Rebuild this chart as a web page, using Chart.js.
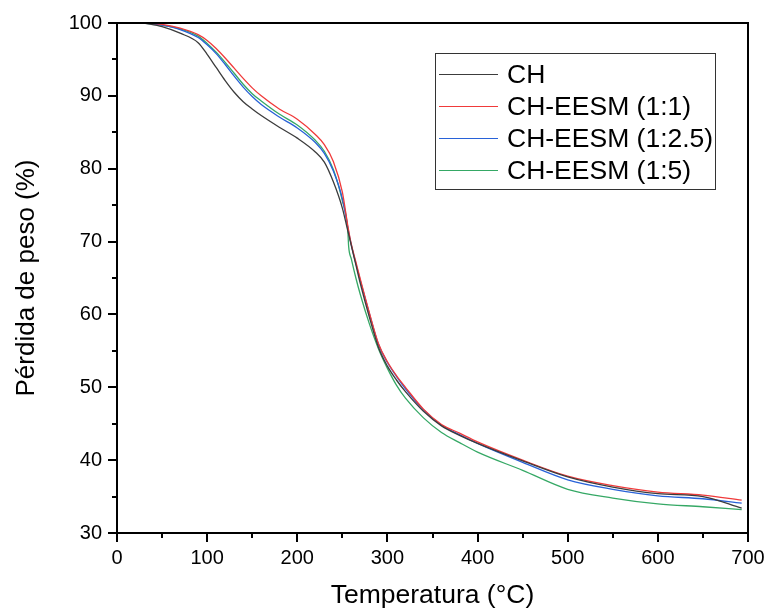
<!DOCTYPE html>
<html>
<head>
<meta charset="utf-8">
<script src="https://cdn.jsdelivr.net/npm/chart.js@4.4.1/dist/chart.umd.min.js"></script>
<style>
  body { margin: 0; background: #fff; }
  #wrap { position: relative; width: 770px; height: 612px; }
  #leyenda {
    position: absolute; left: 435px; top: 53px; width: 279px; height: 127px;
    border: 1px solid #333; padding: 4px 0; box-sizing: content-box;
    font-family: "Liberation Sans", Arial, sans-serif; font-size: 26.5px; color: #000;
  }
  .fila { height: 32px; line-height: 32px; display: flex; align-items: center; white-space: nowrap; }
  .muestra { width: 59px; height: 0; border-top: 1.3px solid; margin: 0 9px 0 3px; }
</style>
</head>
<body>
<div id="wrap">
  <canvas id="tgaChart" width="770" height="612"></canvas>
  <div id="leyenda"></div>
</div>
<script>
// Temperatura (°C) y pérdida de peso (%)
const temperatura = [30, 50, 70, 90, 100, 110, 120, 130, 140, 150, 160, 180, 200, 220, 230, 240, 250, 256, 257, 260, 265, 270, 280, 290, 300, 310, 320, 340, 360, 380, 400, 450, 500, 550, 600, 650, 693];

const serieCH = [100, 99.5, 98.6, 97.3, 95.7, 93.9, 92.1, 90.5, 89.2, 88.2, 87.3, 85.7, 84.2, 82.3, 80.9, 78.2, 74.6, 71.5, 71.0, 69.4, 66.8, 64.2, 59.6, 55.5, 52.9, 51.0, 49.4, 46.7, 44.7, 43.4, 42.3, 39.9, 37.7, 36.3, 35.4, 35.0, 33.4];
const serie11 = [100, 99.8, 99.3, 98.4, 97.6, 96.5, 95.2, 93.8, 92.4, 91.1, 90.0, 88.2, 86.8, 84.7, 83.3, 81.0, 76.8, 72.2, 71.5, 69.6, 67.2, 64.8, 60.2, 56.0, 53.5, 51.6, 50.0, 47.0, 44.9, 43.7, 42.5, 40.0, 37.8, 36.5, 35.6, 35.2, 34.5];
const serie125 = [100, 99.7, 99.1, 98.0, 97.0, 95.8, 94.3, 92.7, 91.2, 89.9, 88.8, 87.1, 85.6, 83.6, 82.1, 79.7, 75.9, 72.0, 71.3, 69.5, 67.0, 64.6, 60.1, 55.9, 53.4, 51.5, 49.8, 46.9, 44.8, 43.5, 42.3, 39.7, 37.3, 36.0, 35.1, 34.7, 34.1];
const serie15 = [100, 99.7, 99.2, 98.2, 97.2, 96.0, 94.6, 93.1, 91.6, 90.3, 89.3, 87.5, 86.0, 83.9, 82.4, 79.9, 75.6, 71.6, 69.3, 67.6, 65.0, 62.7, 58.7, 55.3, 52.6, 50.3, 48.5, 45.8, 43.8, 42.4, 41.1, 38.6, 36.0, 34.8, 34.0, 33.6, 33.2];

const etiquetas = ['CH', 'CH-EESM (1:1)', 'CH-EESM (1:2.5)', 'CH-EESM (1:5)'];
const colores = ['#3c3c3c', '#f03a3a', '#2862d8', '#35a865'];
const series = [serieCH, serie11, serie125, serie15];

const fuente = '"Liberation Sans", Arial, sans-serif';

// marco completo y marcas menores
const marcoPlugin = {
    id: 'marco',
    afterDraw(chart) {
        const ctx = chart.ctx;
        const a = chart.chartArea;
        const x = chart.scales.x;
        const y = chart.scales.y;
        ctx.save();
        ctx.strokeStyle = '#000';
        ctx.lineWidth = 2;
        ctx.strokeRect(a.left, a.top, a.right - a.left, a.bottom - a.top);
        ctx.beginPath();
        for (let v = 50; v < 700; v += 100) {
            const px = Math.round(x.getPixelForValue(v));
            ctx.moveTo(px, a.bottom);
            ctx.lineTo(px, a.bottom + 5);
        }
        for (let v = 35; v < 100; v += 10) {
            const py = Math.round(y.getPixelForValue(v));
            ctx.moveTo(a.left, py);
            ctx.lineTo(a.left - 5, py);
        }
        ctx.stroke();
        ctx.restore();
    }
};

const datasets = series.map((s, i) => ({
    label: etiquetas[i],
    data: temperatura.map((t, j) => ({ x: t, y: s[j] })),
    borderColor: colores[i],
    borderWidth: 1.3,
    pointRadius: 0,
    fill: false,
    cubicInterpolationMode: 'monotone'
}));

const ctx = document.getElementById('tgaChart').getContext('2d');
const chart = new Chart(ctx, {
    type: 'line',
    data: { datasets: datasets },
    options: {
        responsive: false,
        animation: false,
        layout: { padding: { left: 11, top: 23, right: 22, bottom: 0 } },
        plugins: {
            legend: { display: false },
            tooltip: { enabled: false }
        },
        scales: {
            x: {
                type: 'linear',
                min: 0,
                max: 700,
                ticks: { stepSize: 100, color: '#000', font: { family: fuente, size: 20 }, padding: 4, maxRotation: 0 },
                grid: { drawOnChartArea: false, tickLength: 9, color: '#000', lineWidth: 2 },
                border: { color: '#000', width: 2 },
                title: { display: true, text: 'Temperatura (°C)', color: '#000', font: { family: fuente, size: 26.5 }, padding: { top: 0, bottom: 0 } },
                afterFit: function (scale) { scale.height = 79; }
            },
            y: {
                min: 30,
                max: 100,
                ticks: { stepSize: 10, color: '#000', font: { family: fuente, size: 20 }, padding: 6 },
                grid: { drawOnChartArea: false, tickLength: 9, color: '#000', lineWidth: 2 },
                border: { color: '#000', width: 2 },
                title: { display: true, text: 'Pérdida de peso (%)', color: '#000', font: { family: fuente, size: 26 }, padding: 0 },
                afterFit: function (scale) { scale.width = 106; }
            }
        }
    },
    plugins: [marcoPlugin]
});

// leyenda en HTML dentro del área del gráfico
const leyenda = document.getElementById('leyenda');
chart.data.datasets.forEach(ds => {
    const fila = document.createElement('div');
    fila.className = 'fila';
    const linea = document.createElement('span');
    linea.className = 'muestra';
    linea.style.borderTopColor = ds.borderColor;
    const texto = document.createElement('span');
    texto.textContent = ds.label;
    fila.appendChild(linea);
    fila.appendChild(texto);
    leyenda.appendChild(fila);
});
</script>
</body>
</html>
